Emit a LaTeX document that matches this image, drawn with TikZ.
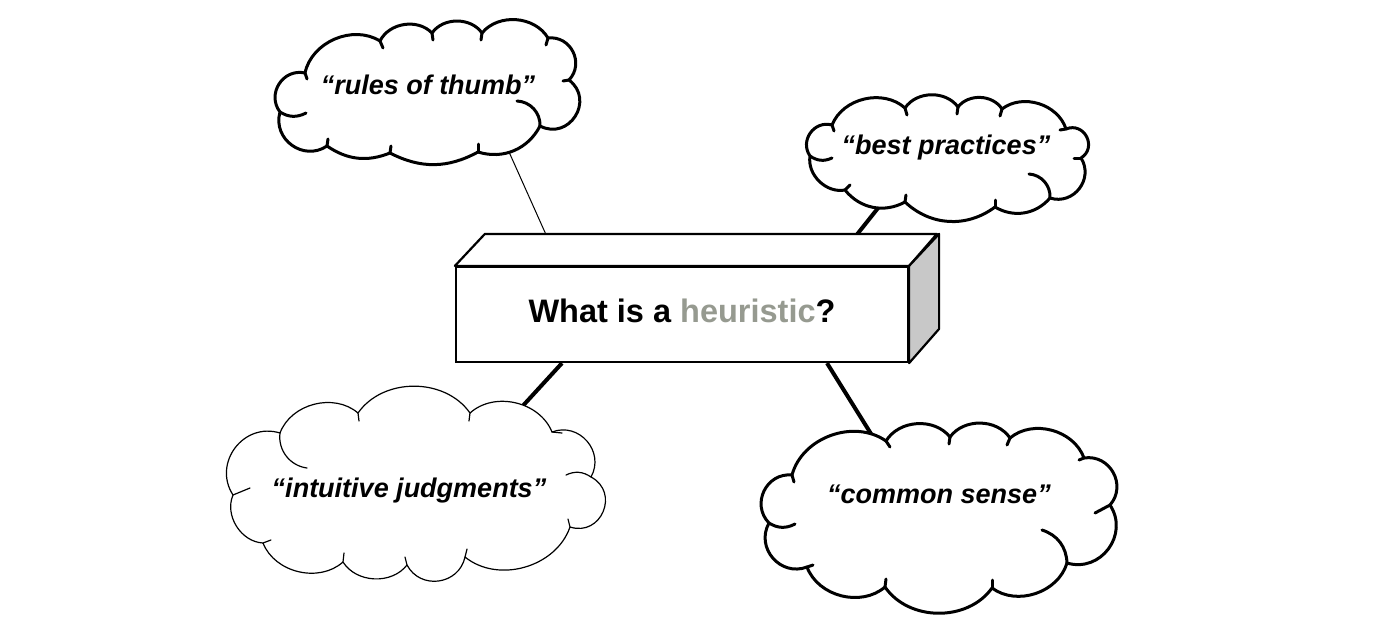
\documentclass[tikz,border=0pt]{standalone}
\usepackage{fontspec}
\setmainfont{Liberation Sans}
\usetikzlibrary{backgrounds}
\definecolor{heurgray}{RGB}{150,154,144}
\definecolor{sidegray}{RGB}{200,200,200}

\begin{document}
\begin{tikzpicture}[
    x=1pt, y=1pt,
    bulgeXS/.style={bend right=28},
    bulgeS/.style={bend right=40},
    bulgeM/.style={bend right=55},
    bulgeL/.style={bend right=70, looseness=1.25},
    bulgeXL/.style={bend right=85, looseness=1.55},
    thickcloud/.style={line width=3pt, line join=round, line cap=round, fill=white},
    thincloud/.style={line width=1.2pt, line join=round, line cap=round, fill=white},
    thicktick/.style={line width=3pt, line cap=round},
    thintick/.style={line width=1.2pt, line cap=round},
    cloudtext/.style={font=\fontsize{27}{30}\selectfont\bfseries\itshape},
    frontface/.style={rectangle, draw, line width=2.2pt, fill=white, minimum width=452pt, minimum height=95pt, inner sep=0pt, text depth=8pt, font=\fontsize{32.5}{36}\selectfont\bfseries},
    boxline/.style={line width=2.2pt, line join=round},
    link/.style={line width=4pt},
    thinlink/.style={line width=1pt}
]
    \useasboundingbox (0,0) rectangle (1400,-622);

    \node[frontface] (box) at (682,-314.5) {What is a \textcolor{heurgray}{heuristic}?};
    \draw[boxline, fill=white] (box.north west) -- ++(30,32) -- ++(452,0) -- (box.north east) -- cycle;
    \draw[boxline, fill=sidegray] (box.north east) -- ++(30,32) -- ++(0,-95) -- (box.south east) -- cycle;

    % clouds
    \draw[thickcloud] (305,-73) to[bulgeL] (280,-112) to[bulgeL] (327,-146) to[bulgeXS] (390,-153)
        to[bulgeXS] (478,-152) to[bulgeS] (540,-126) to[bulgeXL] (569,-80) to[bulgeL] (548,-38)
        to[bulgeM] (482,-33) to[bulgeM] (432,-33) to[bulgeM] (380,-41) to[bulgeM] (305,-73);
    \draw[thicktick] (540,-126) to[bend right=45] (517,-101);
    \draw[thicktick] (280,-112) to[bend right=30] (306,-113);
    \foreach \xa/\ya/\xb/\yb in {380/41/383/48, 432/33/433/40, 482/33/481/40, 548/38/546/45, 569/80/563/81,
        478/152/478/144, 390/153/391/146, 327/146/328/139, 305/73/307/79}
        \draw[thicktick] (\xa,-\ya) -- (\xb,-\yb);

    \draw[thickcloud] (832,-125) to[bulgeL] (810,-156) to[bulgeM] (845,-190) to[bulgeS] (905,-202)
        to[bulgeS] (995,-207) to[bulgeS] (1050,-198) to[bulgeL] (1081,-158) to[bulgeXL] (1066,-129)
        to[bulgeM] (1002,-109) to[bulgeM] (958,-107) to[bulgeM] (905,-108) to[bulgeM] (832,-125);
    \draw[thicktick] (1050,-198) to[bend right=45] (1029,-174);
    \draw[thicktick] (810,-156) to[bend right=30] (832,-158);
    \foreach \xa/\ya/\xb/\yb in {905/108/907/115, 958/107/957/114, 1002/109/1000/116, 1066/129/1060/130,
        1081/158/1074/158, 995/207/995/200, 905/202/906/195, 845/190/850/185, 832/125/834/131}
        \draw[thicktick] (\xa,-\ya) -- (\xb,-\yb);

    \draw[thincloud] (280,-433) to[bulgeL] (233,-495) to[bulgeM] (263,-543) to[bulgeM] (343,-562)
        to[bulgeM] (407,-565) to[bulgeL] (465,-557) to[bulgeM] (570,-527) to[bulgeXL] (591,-477)
        to[bulgeL] (552,-432) to[bulgeM] (470,-413) to[bulgeM] (358,-413) to[bulgeM] (280,-433);
    \draw[thintick] (280,-433) to[bend right=45] (307,-468);
    \draw[thintick] (591,-477) to[bend right=30] (566,-475);
    \foreach \xa/\ya/\xb/\yb in {233/495/250/488, 358/413/359/421, 470/413/469/421, 552/432/562/433,
        570/527/568/519, 465/557/467/549, 407/565/405/557, 343/562/344/553, 263/543/271/540}
        \draw[thintick] (\xa,-\ya) -- (\xb,-\yb);

    \draw[thickcloud] (792,-475) to[bulgeL] (769,-523) to[bulgeL] (807,-567) to[bulgeM] (885,-587)
        to[bulgeM] (992,-588) to[bulgeM] (1067,-563) to[bulgeL] (1110,-505) to[bulgeL] (1084,-458)
        to[bulgeM] (1010,-438) to[bulgeM] (950,-437) to[bulgeM] (886,-441) to[bulgeM] (792,-475);
    \draw[thicktick] (1067,-563) to[bend right=35] (1042,-530);
    \draw[thicktick] (769,-523) to[bend right=30] (795,-524);
    \foreach \xa/\ya/\xb/\yb in {886/441/890/447, 950/437/949/444, 1010/438/1007/445, 1084/458/1079/460,
        1110/505/1095/513, 992/588/992/580, 885/587/886/579, 807/567/813/565, 792/475/794/482}
        \draw[thicktick] (\xa,-\ya) -- (\xb,-\yb);

    \node[cloudtext] (rules) at (428,-85) {“rules of thumb”};
    \node[cloudtext] (best) at (946,-148) {“best practices”};
    \node[cloudtext] (intuitive) at (409,-491) {“intuitive judgments”};
    \node[cloudtext] (common) at (939,-494) {“common sense”};

    \coordinate (rulesrim) at (505,-143);
    \coordinate (bestrim) at (886,-198);
    \coordinate (intuitiverim) at (519,-410);
    \coordinate (commonrim) at (873,-437);

    \begin{scope}[on background layer]
        \draw[thinlink] (rulesrim) -- ([xshift=-122pt]box.north);
        \draw[link] (bestrim) -- ([xshift=150pt]box.north);
        \draw[link] (intuitiverim) -- ([xshift=-120pt]box.south);
        \draw[link] (commonrim) -- ([xshift=145pt]box.south);
    \end{scope}
\end{tikzpicture}
\end{document}
